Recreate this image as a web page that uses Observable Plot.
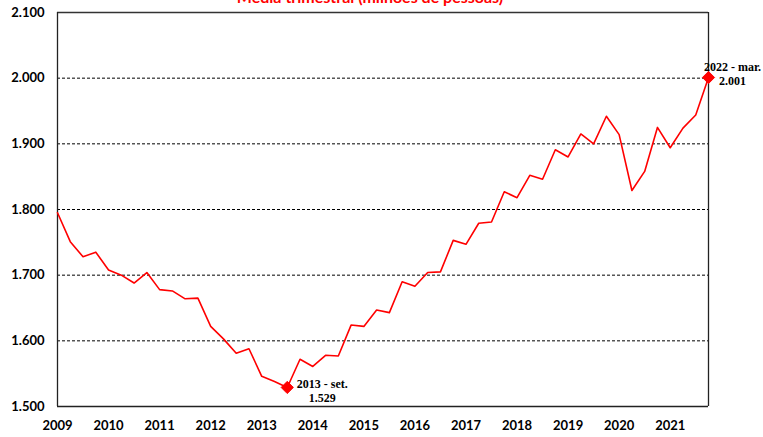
<!DOCTYPE html>
<html>
<head>
<meta charset="utf-8">
<script src="https://cdn.jsdelivr.net/npm/d3@7"></script>
<script src="https://cdn.jsdelivr.net/npm/@observablehq/plot@0.6"></script>
<style>
  html, body { margin: 0; padding: 0; background: #fff; overflow: hidden; }
  #wrap { position: relative; width: 763px; height: 437px; }
  #title { position: absolute; top: -12px; left: 0; width: 740px; text-align: center;
           font: bold 16px Lato, "Open Sans", sans-serif; color: #ff0000; line-height: 18px; }
</style>
</head>
<body>
<div id="wrap">
  <div id="title">Média trimestral (milhões de pessoas)</div>
  <div id="chart"></div>
</div>
<script>
const years = ["2009","2010","2011","2012","2013","2014","2015","2016","2017","2018","2019","2020","2021"];
const values = [
  1.795, 1.751, 1.728, 1.735, 1.708, 1.700, 1.688, 1.704,
  1.678, 1.676, 1.664, 1.665, 1.622, 1.603, 1.581, 1.588,
  1.546, 1.538, 1.529, 1.572, 1.561, 1.578, 1.577, 1.624,
  1.622, 1.647, 1.643, 1.690, 1.683, 1.704, 1.705, 1.753,
  1.747, 1.779, 1.781, 1.827, 1.818, 1.852, 1.846, 1.891,
  1.880, 1.915, 1.900, 1.942, 1.914, 1.829, 1.858, 1.925,
  1.894, 1.924, 1.944, 2.001
];
const yTicks = [1.5, 1.6, 1.7, 1.8, 1.9, 2.0, 2.1];
const highlightIdx = [18, 51];
const highlightLabels = ["2013 - set.\n1.529", "2022 - mar.\n2.001"];

const data = values.map((v, i) => ({i, v}));
const highlights = highlightIdx.map((i, k) => ({i, v: values[i], label: highlightLabels[k]}));
const fmt = d => d3.format(",.0f")(d * 1000).replace(",", ".");

const chart = Plot.plot({
  width: 763,
  height: 437,
  marginLeft: 57,
  marginRight: 55,
  marginTop: 12,
  marginBottom: 31,
  style: {fontFamily: "Lato, 'Open Sans', sans-serif", fontSize: "12px", fontWeight: "bold", color: "#000", background: "transparent"},
  x: {type: "linear", domain: [0, values.length - 1]},
  y: {domain: [1.5, 2.1]},
  marks: [
    Plot.ruleY(yTicks.slice(1, -1), {stroke: "#000", strokeWidth: 1, strokeDasharray: "3,2"}),
    Plot.ruleY([2.1], {stroke: "#333", strokeWidth: 1.5}),
    Plot.ruleY([1.5], {stroke: "#222", strokeWidth: 1.5}),
    Plot.ruleX([0], {stroke: "#222", strokeWidth: 1.3}),
    Plot.ruleX([values.length - 1], {stroke: "#222", strokeWidth: 1.3}),
    Plot.axisY({ticks: yTicks, tickFormat: fmt, tickSize: 0, tickPadding: 13, fontSize: 13, fontWeight: "bold", label: null}),
    Plot.axisX({ticks: years.map((y, k) => k * 4), tickFormat: d => years[d / 4], tickSize: 0, tickPadding: 14, fontSize: 13, fontWeight: "bold", label: null}),
    Plot.line(data, {x: "i", y: "v", stroke: "#ff0000", strokeWidth: 1.6}),
    Plot.dot(highlights, {x: "i", y: "v", symbol: "diamond2", r: 5.5, fill: "#ff0000", stroke: "#ff0000", strokeWidth: 1}),
    Plot.text(highlights, {x: "i", y: "v", text: "label",
      fontFamily: "'Liberation Serif', 'DejaVu Serif', serif", fontSize: 12, fontWeight: "bold", fill: "#000",
      lineHeight: 1.2, textAnchor: "middle"})
  ]
});
document.getElementById("chart").appendChild(chart);

// offset the annotation labels relative to their points
const texts = chart.querySelectorAll("g[aria-label='text'] text");
const offs = [[35, 3], [24, -4]];
texts.forEach((t, k) => {
  const tr = t.getAttribute("transform") || "";
  t.setAttribute("transform", tr + ` translate(${offs[k][0]},${offs[k][1]})`);
});
</script>
</body>
</html>
